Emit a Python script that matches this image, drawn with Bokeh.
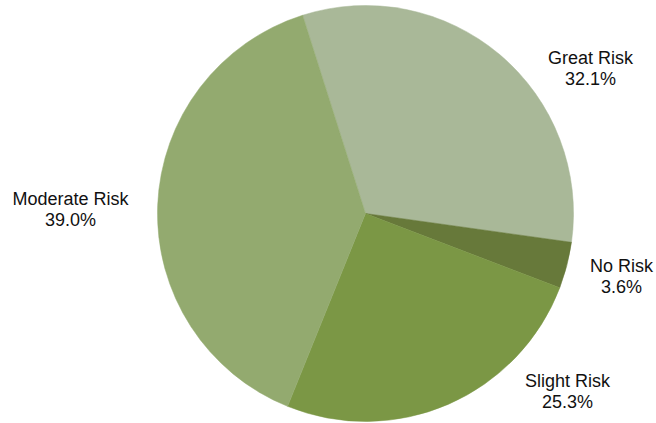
import math
from bokeh.plotting import figure
from bokeh.models import ColumnDataSource, Range1d
from bokeh.core.properties import value
from bokeh.embed import file_html
from bokeh.resources import INLINE

# ---- data ----
categories = ["Great Risk", "No Risk", "Slight Risk", "Moderate Risk"]
percents = [32.1, 3.6, 25.3, 39.0]

# ---- style ----
colors = ["#a9b898", "#67793a", "#7b9745", "#93aa6f"]
W, H = 656, 423
cx, cy, radius = 365, 210, 208
start_deg = 107.6
label_pos = [(590, 366), (621, 158), (567, 43), (70, 225)]
line_gap = 21

total = sum(percents)
starts, ends = [], []
a = math.radians(start_deg)
for v in percents:
    starts.append(a)
    a = a - v / total * 2 * math.pi
    ends.append(a)

src = ColumnDataSource(dict(start=starts, end=ends, color=colors, cat=categories))

p = figure(width=W, height=H, output_backend="svg", toolbar_location=None,
           x_range=Range1d(0, W), y_range=Range1d(0, H), min_border=0,
           outline_line_color=None, background_fill_color="white")
p.styles = {"position": "absolute", "top": "0px", "left": "0px"}
p.axis.visible = False
p.grid.visible = False

p.wedge(x=cx, y=cy, radius=radius, start_angle="start", end_angle="end",
        direction="clock", fill_color="color", line_color="color",
        line_width=0.5, source=src)

names_src = ColumnDataSource(dict(
    x=[lp[0] for lp in label_pos], y=[lp[1] for lp in label_pos], t=categories))
pct_src = ColumnDataSource(dict(
    x=[lp[0] for lp in label_pos], y=[lp[1] - line_gap for lp in label_pos],
    t=[f"{v:.1f}%" for v in percents]))

for s in (names_src, pct_src):
    p.text(x="x", y="y", text="t", source=s, text_align="center",
           text_baseline="alphabetic", text_font=value("Liberation Sans"),
           text_font_size="18px", text_color="#111111")

open("out.html", "w").write(file_html(p, INLINE))
